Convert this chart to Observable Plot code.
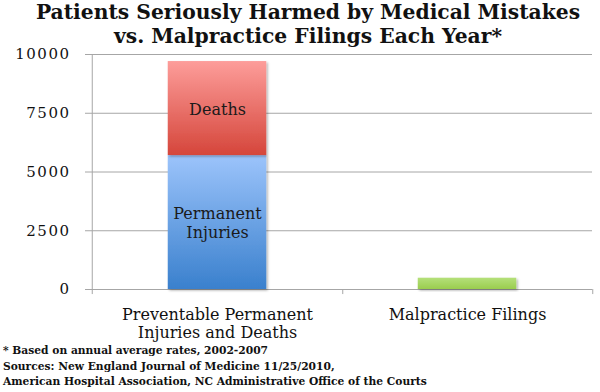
<!DOCTYPE html>
<html>
<head>
<meta charset="utf-8">
<script src="https://cdn.jsdelivr.net/npm/d3@7"></script>
<script src="https://cdn.jsdelivr.net/npm/@observablehq/plot@0.6"></script>
<style>
  body { margin: 0; background: #fff; width: 600px; height: 392px; overflow: hidden; }
  #title { height: 48px; box-sizing: border-box; padding-top: 0px; padding-left: 16px; text-align: center;
    font-family: "DejaVu Serif", serif; font-weight: bold; font-size: 20.3px; line-height: 24px; color: #111; }
  #caption { padding-left: 3px; font-family: "DejaVu Serif", serif; font-weight: bold; font-size: 10.7px;
    line-height: 15.5px; color: #111; }
  svg { display: block; overflow: visible; }
</style>
</head>
<body>
<div id="title">Patients Seriously Harmed by Medical Mistakes<br>vs. Malpractice Filings Each Year*</div>
<div id="chart"></div>
<div id="caption">* Based on annual average rates, 2002-2007<br>Sources: New England Journal of Medicine 11/25/2010,<br>American Hospital Association, NC Administrative Office of the Courts</div>
<script>
const categories = ["Preventable Permanent\nInjuries and Deaths", "Malpractice Filings"];
const segmentNames = ["Permanent Injuries", "Deaths", "Malpractice Filings"];
const segmentCategory = [0, 0, 1];
const segmentValues = [5700, 4000, 480];
const segmentLabels = ["Permanent\nInjuries", "Deaths", ""];
const segmentFills = ["url(#gBlue)", "url(#gRed)", "url(#gGreen)"];
const yTicks = [0, 2500, 5000, 7500, 10000];

const data = segmentNames.map((name, i) => ({
  name,
  category: categories[segmentCategory[i]],
  value: segmentValues[i],
  label: segmentLabels[i],
  fill: segmentFills[i]
}));

const W = 600, H = 295, mL = 91, mR = 8;
const band = (W - mL - mR) / categories.length;
const barW = 99;
const inset = (band - barW) / 2;

const chart = Plot.plot({
  width: W,
  height: H,
  marginTop: 6,
  marginBottom: 54,
  marginLeft: mL,
  marginRight: mR,
  style: { fontFamily: "DejaVu Serif, serif", color: "#111", background: "#fff", overflow: "visible" },
  x: { domain: categories, padding: 0 },
  y: { domain: [0, 10000] },
  color: { type: "identity" },
  marks: [
    Plot.gridY(yTicks, { stroke: "#a6a6a6", strokeOpacity: 1 }),
    Plot.ruleX([categories[0]], { dx: -band / 2, y1: -215, y2: 10000, stroke: "#a6a6a6" }),
    Plot.ruleX(categories, { dx: band / 2, y1: -215, y2: 0, stroke: "#a6a6a6" }),
    Plot.barY(data, Plot.stackY({
      x: "category", y: "value", fill: "fill",
      insetLeft: inset, insetRight: inset
    })),
    Plot.text(data, Plot.stackY({
      x: "category", y: "value", text: "label",
      fontSize: 16, lineHeight: 1.2, fill: "#1a1a1a"
    })),
    Plot.axisY(yTicks, { tickSize: 6, tickPadding: 15, label: null, fontSize: 15,
      stroke: "#a6a6a6", fill: "#111", tickFormat: d => String(d) }),
    Plot.axisX({ tickSize: 0, tickPadding: 17, label: null, fontSize: 16, lineHeight: 1.15, fill: "#111" })
  ]
});

const ns = "http://www.w3.org/2000/svg";
const defs = document.createElementNS(ns, "defs");
function grad(id, top, bottom) {
  const g = document.createElementNS(ns, "linearGradient");
  g.setAttribute("id", id);
  g.setAttribute("x1", "0"); g.setAttribute("y1", "0");
  g.setAttribute("x2", "0"); g.setAttribute("y2", "1");
  [[0, top], [1, bottom]].forEach(([o, c]) => {
    const s = document.createElementNS(ns, "stop");
    s.setAttribute("offset", o);
    s.setAttribute("stop-color", c);
    g.appendChild(s);
  });
  defs.appendChild(g);
}
grad("gBlue", "#9cc4fb", "#3a80cd");
grad("gRed", "#fd9d9a", "#d5463b");
grad("gGreen", "#b5e07a", "#9acd4e");
const f = document.createElementNS(ns, "filter");
f.setAttribute("id", "shadow");
f.setAttribute("x", "-10%"); f.setAttribute("y", "-10%");
f.setAttribute("width", "130%"); f.setAttribute("height", "130%");
f.innerHTML = '<feDropShadow dx="1.5" dy="1.5" stdDeviation="1.2" flood-color="#000" flood-opacity="0.3"/>';
defs.appendChild(f);
chart.insertBefore(defs, chart.firstChild);
chart.querySelectorAll("g[aria-label='bar'] rect").forEach(r => r.setAttribute("filter", "url(#shadow)"));
chart.querySelectorAll("g[aria-label='y-axis tick label']").forEach(t => t.style.letterSpacing = "1.5px");
document.getElementById("chart").appendChild(chart);
</script>
</body>
</html>
